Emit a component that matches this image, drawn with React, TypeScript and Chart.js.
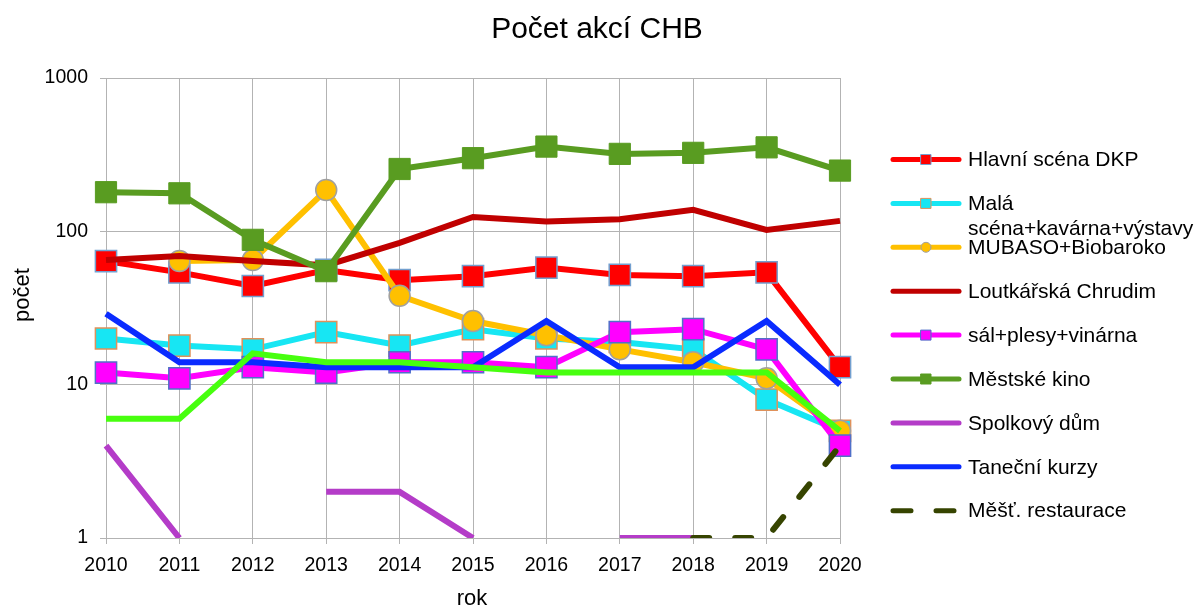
import { useEffect, useRef } from "react";
import { Chart, registerables } from "chart.js";

Chart.register(...registerables);

const years = ["2010", "2011", "2012", "2013", "2014", "2015", "2016", "2017", "2018", "2019", "2020"];
const hlavniScena = [64, 54, 44, 56, 48, 51, 58, 52, 51, 54, 13];
const malaScena = [20, 18, 17, 22, 18, 23, 20, 19, 17, 8, 5];
const mubaso = [null, 64, 65, 186, 38, 26, 21, 17, 14, 11, 5];
const loutkarska = [65, 69, 64, 60, 84, 124, 116, 120, 138, 102, 117];
const salPlesy = [12, 11, 13, 12, 14, 14, 13, 22, 23, 17, 4];
const mestskeKino = [180, 177, 88, 55, 255, 300, 357, 320, 325, 353, 249];
const spolkovyDum = [4, 1, null, 2, 2, 1, null, 1, 1, null, null];
const tanecniKurzy = [29, 14, 14, 13, 13, 13, 26, 13, 13, 26, 10];
const mestRestaurace = [null, null, null, null, null, null, null, null, 1, 1, 4];
const unlabeledSeries = [6, 6, 16, 14, 14, 13, 12, 12, 12, 12, 5];
const yTicks = [1, 10, 100, 1000];

const legendLabels: (string | string[])[] = [
  "Hlavní scéna DKP",
  ["Malá", "scéna+kavárna+výstavy"],
  "MUBASO+Biobaroko",
  "Loutkářská Chrudim",
  "sál+plesy+vinárna",
  "Městské kino",
  "Spolkový dům",
  "Taneční kurzy",
  "Měšť. restaurace",
];

const FONT = "'Liberation Sans', Arial, sans-serif";

const overlayPlugin = {
  id: "overlay",
  afterDraw(chart: any) {
    const ctx = chart.ctx as CanvasRenderingContext2D;
    ctx.save();
    ctx.fillStyle = "#000";
    // title
    ctx.font = `30px ${FONT}`;
    ctx.textAlign = "center";
    ctx.textBaseline = "alphabetic";
    ctx.fillText("Počet akcí CHB", 597, 38);
    // x title
    ctx.font = `22px ${FONT}`;
    ctx.fillText("rok", 472, 605);
    // y title
    ctx.save();
    ctx.translate(29, 295);
    ctx.rotate(-Math.PI / 2);
    ctx.fillText("počet", 0, 0);
    ctx.restore();

    // legend
    const datasets = chart.data.datasets;
    for (let i = 0; i < legendLabels.length; i++) {
      const ds = datasets[i];
      const y = 159.5 + i * 43.9;
      ctx.save();
      ctx.strokeStyle = ds.borderColor;
      ctx.lineWidth = 5;
      ctx.lineCap = "round";
      if (ds.borderDash) ctx.setLineDash([18, 25]);
      ctx.beginPath();
      ctx.moveTo(893, y);
      ctx.lineTo(959, y);
      ctx.stroke();
      ctx.setLineDash([]);
      if (ds.pointRadius > 0) {
        ctx.fillStyle = ds.pointBackgroundColor;
        ctx.strokeStyle = ds.pointBorderColor;
        ctx.lineWidth = 1;
        ctx.beginPath();
        if (ds.pointStyle === "circle") {
          ctx.arc(926, y, 5, 0, Math.PI * 2);
        } else {
          ctx.rect(921, y - 5, 10, 10);
        }
        ctx.fill();
        ctx.stroke();
      }
      ctx.restore();
      ctx.font = `21px ${FONT}`;
      ctx.textAlign = "left";
      ctx.textBaseline = "middle";
      ctx.fillStyle = "#000";
      const lbl = legendLabels[i];
      const lines = Array.isArray(lbl) ? lbl : [lbl];
      lines.forEach((t, k) => ctx.fillText(t, 968, y + 1 + k * 25));
    }
    ctx.restore();
  },
};

function lineDs(label: string, data: (number | null)[], color: string, idx: number, extra: any = {}) {
  return {
    label,
    data,
    borderColor: color,
    backgroundColor: color,
    borderWidth: 6,
    pointRadius: 0,
    pointHoverRadius: 0,
    tension: 0,
    spanGaps: false,
    order: 20 - idx,
    ...extra,
  };
}

export default function App() {
  const canvasRef = useRef<HTMLCanvasElement | null>(null);

  useEffect(() => {
    if (!canvasRef.current) return;
    const chart = new Chart(canvasRef.current, {
      type: "line",
      data: {
        labels: years,
        datasets: [
          lineDs("Hlavní scéna DKP", hlavniScena, "#FF0000", 0, {
            pointStyle: "rect", pointRadius: 15, pointBackgroundColor: "#FF0000",
            pointBorderColor: "#729FCF", pointBorderWidth: 1.5,
          }),
          lineDs("Malá scéna+kavárna+výstavy", malaScena, "#17E6F3", 1, {
            pointStyle: "rect", pointRadius: 15, pointBackgroundColor: "#17E6F3",
            pointBorderColor: "#E0915A", pointBorderWidth: 1.5,
          }),
          lineDs("MUBASO+Biobaroko", mubaso, "#FFC000", 2, {
            pointStyle: "circle", pointRadius: 10.5, pointBackgroundColor: "#FFC000",
            pointBorderColor: "#A0A0A0", pointBorderWidth: 1.5,
          }),
          lineDs("Loutkářská Chrudim", loutkarska, "#C00000", 3),
          lineDs("sál+plesy+vinárna", salPlesy, "#FF00FF", 4, {
            pointStyle: "rect", pointRadius: 15, pointBackgroundColor: "#FF00FF",
            pointBorderColor: "#5070C8", pointBorderWidth: 1.5,
          }),
          lineDs("Městské kino", mestskeKino, "#599C21", 5, {
            pointStyle: "rect", pointRadius: 15, pointBackgroundColor: "#599C21",
            pointBorderColor: "#599C21", pointBorderWidth: 1,
          }),
          lineDs("Spolkový dům", spolkovyDum, "#B43CC8", 6),
          lineDs("Taneční kurzy", tanecniKurzy, "#0A2BFF", 7),
          lineDs("Měšť. restaurace", mestRestaurace, "#364400", 8, {
            borderDash: [16, 26], borderCapStyle: "round",
          }),
          lineDs("", unlabeledSeries, "#47FF0F", 9),
        ],
      },
      options: {
        responsive: false,
        animation: false,
        events: [],
        layout: { padding: { left: 0, right: 358, top: 78, bottom: 0 } },
        plugins: {
          legend: { display: false },
          title: { display: false },
          tooltip: { enabled: false },
        },
        scales: {
          x: {
            type: "category",
            offset: false,
            grid: { color: "#B3B3B3", lineWidth: 1, tickLength: 6, drawTicks: true },
            border: { color: "#B3B3B3", width: 1 },
            ticks: {
              color: "#000",
              font: { family: FONT, size: 19.5 },
              padding: 10,
              maxRotation: 0,
              autoSkip: false,
            },
            afterFit: (s: any) => { s.height = 70; },
          },
          y: {
            type: "logarithmic",
            min: 1,
            max: 1000,
            grid: { color: "#B3B3B3", lineWidth: 1, tickLength: 6, drawTicks: true },
            border: { color: "#B3B3B3", width: 1 },
            ticks: {
              color: "#000",
              font: { family: FONT, size: 19.5 },
              padding: 12,
              callback: (v: any) => String(v),
            },
            afterBuildTicks: (s: any) => { s.ticks = yTicks.map((v) => ({ value: v })); },
            afterFit: (s: any) => { s.width = 106; },
          },
        },
      },
      plugins: [overlayPlugin],
    } as any);
    return () => chart.destroy();
  }, []);

  return (
    <div style={{ position: "fixed", left: 0, top: 0, width: 1198, height: 608, background: "#fff" }}>
      <canvas ref={canvasRef} width={1198} height={608} style={{ width: 1198, height: 608 }} />
    </div>
  );
}
